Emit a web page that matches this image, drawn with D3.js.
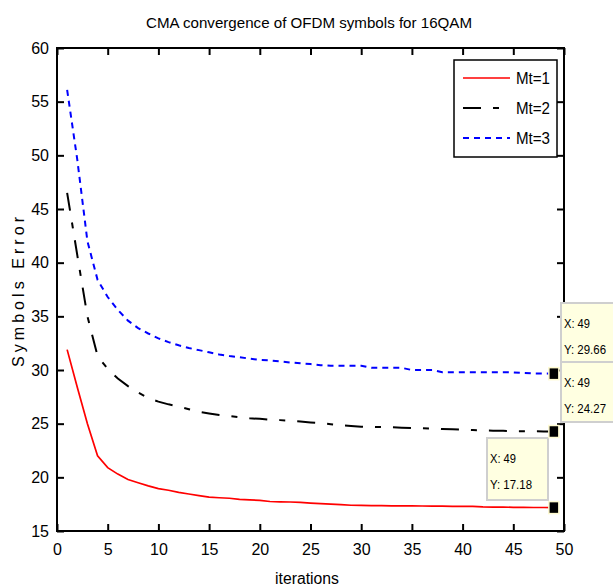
<!DOCTYPE html>
<html>
<head>
<meta charset="utf-8">
<script src="https://cdn.jsdelivr.net/npm/d3@7"></script>
<style>
  body { margin: 0; background: #fff; }
  text { font-family: "Liberation Sans Narrow", "Liberation Sans", Arial, sans-serif; fill: #000; }
</style>
</head>
<body>
<svg width="613" height="587"></svg>
<script>
// data
var iterations = [1, 2, 3, 4, 5, 6, 7, 8, 9, 10, 11, 12, 13, 14, 15, 16, 17, 18, 19, 20,
    21, 22, 23, 24, 25, 26, 27, 28, 29, 30, 31, 32, 33, 34, 35, 36, 37, 38, 39, 40,
    41, 42, 43, 44, 45, 46, 47, 48, 49];

var mt1 = [31.9, 28.4, 25.0, 22.0, 20.9, 20.3, 19.8, 19.5, 19.2, 18.95, 18.8, 18.6, 18.45, 18.3, 18.15,
    18.1, 18.05, 17.95, 17.9, 17.85, 17.75, 17.72, 17.7, 17.67, 17.6, 17.55, 17.5, 17.45, 17.4, 17.38,
    17.37, 17.36, 17.35, 17.35, 17.34, 17.33, 17.32, 17.31, 17.3, 17.3, 17.29, 17.24, 17.23, 17.22, 17.21,
    17.2, 17.19, 17.19, 17.18];

var mt2 = [46.5, 40.7, 35.0, 31.3, 30.1, 29.2, 28.5, 27.9, 27.4, 27.05, 26.8, 26.6, 26.35, 26.1, 25.95,
    25.8, 25.7, 25.6, 25.5, 25.45, 25.38, 25.33, 25.28, 25.2, 25.12, 25.05, 24.95, 24.85, 24.78, 24.72,
    24.7, 24.68, 24.66, 24.63, 24.6, 24.58, 24.55, 24.5, 24.47, 24.44, 24.4, 24.37, 24.35, 24.33, 24.31,
    24.3, 24.29, 24.28, 24.27];

var mt3 = [56.1, 49.6, 42.0, 38.4, 36.8, 35.6, 34.6, 33.9, 33.4, 32.95, 32.6, 32.3, 32.05, 31.85, 31.65,
    31.45, 31.3, 31.2, 31.05, 30.95, 30.9, 30.8, 30.7, 30.62, 30.55, 30.45, 30.4, 30.4, 30.4, 30.4,
    30.2, 30.2, 30.2, 30.2, 30.0, 30.0, 30.0, 29.8, 29.8, 29.8, 29.8, 29.8, 29.8, 29.8, 29.78,
    29.72, 29.68, 29.67, 29.66];

var seriesNames = ['Mt=1', 'Mt=2', 'Mt=3'];
var xTicks = [0, 5, 10, 15, 20, 25, 30, 35, 40, 45, 50];
var yTicks = [15, 20, 25, 30, 35, 40, 45, 50, 55, 60];
var tipX = 49;
var tipY = [17.18, 24.27, 29.66];

var svg = d3.select('svg');
var plotLeft = 57, plotRight = 564, plotTop = 48, plotBottom = 531;

var x = d3.scaleLinear().domain([0, 50]).range([plotLeft, plotRight]);
var y = d3.scaleLinear().domain([15, 60]).range([plotBottom, plotTop]);

var colors = ['#ff0000', '#000000', '#0000ff'];
var dashes = [null, '18,12,6,12', '6,5'];
var series = [mt1, mt2, mt3];

// title and labels
svg.append('text')
    .attr('x', 309).attr('y', 28)
    .attr('text-anchor', 'middle')
    .attr('font-size', 15)
    .attr('textLength', 326)
    .attr('lengthAdjust', 'spacingAndGlyphs')
    .text('CMA convergence of OFDM symbols for 16QAM');

svg.append('text')
    .attr('transform', 'translate(24,292) rotate(-90)')
    .attr('text-anchor', 'middle')
    .attr('font-size', 16)
    .attr('textLength', 150)
    .text('Symbols Error');

svg.append('text')
    .attr('x', 307).attr('y', 584)
    .attr('text-anchor', 'middle')
    .attr('font-size', 16)
    .attr('textLength', 64)
    .attr('lengthAdjust', 'spacingAndGlyphs')
    .text('iterations');

// axes, ticks pointing inward
function styleAxis(g, labels) {
    g.select('.domain').remove();
    g.selectAll('.tick line').attr('stroke', '#000').attr('stroke-width', 2);
    g.selectAll('.tick text').attr('font-size', 16).attr('fill', '#000');
    if (!labels) g.selectAll('.tick text').remove();
}

svg.append('g')
    .attr('transform', 'translate(0,' + plotBottom + ')')
    .call(d3.axisBottom(x).tickValues(xTicks).tickSizeInner(-7).tickSizeOuter(0).tickPadding(13))
    .call(g => styleAxis(g, true));

svg.append('g')
    .attr('transform', 'translate(0,' + plotTop + ')')
    .call(d3.axisTop(x).tickValues(xTicks).tickSizeInner(-7).tickSizeOuter(0))
    .call(g => styleAxis(g, false));

svg.append('g')
    .attr('transform', 'translate(' + plotLeft + ',0)')
    .call(d3.axisLeft(y).tickValues(yTicks).tickSizeInner(-7).tickSizeOuter(0).tickPadding(8))
    .call(g => styleAxis(g, true));

svg.append('g')
    .attr('transform', 'translate(' + plotRight + ',0)')
    .call(d3.axisRight(y).tickValues(yTicks).tickSizeInner(-7).tickSizeOuter(0))
    .call(g => styleAxis(g, false));

// lines
var line = d3.line()
    .x((d, i) => x(iterations[i]))
    .y(d => y(d));

svg.selectAll('path.series')
    .data(series)
    .enter().append('path')
    .attr('class', 'series')
    .attr('d', d => line(d))
    .attr('fill', 'none')
    .attr('stroke', (d, i) => colors[i])
    .attr('stroke-width', (d, i) => i === 0 ? 1.7 : 2)
    .attr('stroke-dasharray', (d, i) => dashes[i]);

// frame
svg.append('rect')
    .attr('x', plotLeft).attr('y', plotTop)
    .attr('width', plotRight - plotLeft).attr('height', plotBottom - plotTop)
    .attr('fill', 'none')
    .attr('stroke', '#000')
    .attr('stroke-width', 2);

// legend
var legend = svg.append('g');
legend.append('rect')
    .attr('x', 454).attr('y', 60)
    .attr('width', 103).attr('height', 97)
    .attr('fill', '#fff')
    .attr('stroke', '#000')
    .attr('stroke-width', 1.5);

seriesNames.forEach(function(name, i) {
    var ly = 78 + i * 30;
    legend.append('line')
        .attr('x1', 463).attr('x2', 510)
        .attr('y1', ly).attr('y2', ly)
        .attr('stroke', colors[i])
        .attr('stroke-width', i === 0 ? 1.7 : 2)
        .attr('stroke-dasharray', dashes[i]);
    legend.append('text')
        .attr('x', 516).attr('y', ly + 6)
        .attr('font-size', 16)
        .attr('textLength', 34)
        .attr('lengthAdjust', 'spacingAndGlyphs')
        .text(name);
});

// data tips
var tips = [
    { bx: 487, by: 438, w: 61, h: 62 },
    { bx: 561, by: 362, w: 60, h: 60 },
    { bx: 561, by: 303, w: 60, h: 59 }
];

tipY.forEach(function(v, i) {
    var t = tips[i];
    var g = svg.append('g');
    g.append('rect')
        .attr('x', t.bx).attr('y', t.by)
        .attr('width', t.w).attr('height', t.h)
        .attr('fill', '#ffffe1')
        .attr('stroke', '#cfcfcf')
        .attr('stroke-width', 2);
    g.append('text')
        .attr('x', t.bx + 3).attr('y', t.by + 25)
        .attr('font-size', 13)
        .attr('fill', '#3a3550')
        .attr('textLength', 26)
        .attr('lengthAdjust', 'spacingAndGlyphs')
        .text('X: ' + tipX);
    g.append('text')
        .attr('x', t.bx + 3).attr('y', t.by + 51)
        .attr('font-size', 13)
        .attr('fill', '#3a3550')
        .attr('textLength', 42)
        .attr('lengthAdjust', 'spacingAndGlyphs')
        .text('Y: ' + v);
});

// markers at the tips
svg.selectAll('rect.marker')
    .data(tipY)
    .enter().append('rect')
    .attr('class', 'marker')
    .attr('x', x(tipX) - 5)
    .attr('y', d => y(d) - 6)
    .attr('width', 10).attr('height', 12)
    .attr('fill', '#000')
    .attr('stroke', '#fffbd0')
    .attr('stroke-width', 1.5);
</script>
</body>
</html>
